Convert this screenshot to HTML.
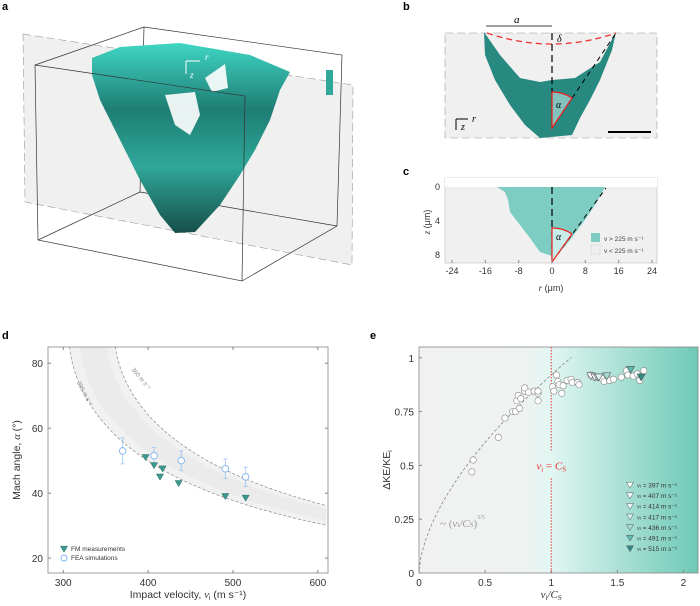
<!DOCTYPE html>
<html><head><meta charset="utf-8"><style>
body{margin:0;background:#fff;font-family:"Liberation Sans",sans-serif}
svg{display:block}
text{font-family:"Liberation Sans",sans-serif}
.it{font-family:"Liberation Serif",serif;font-style:italic}
</style></head><body>
<svg id="fig" width="700" height="606" viewBox="0 0 700 606">
<defs>
<linearGradient id="teal3d" x1="0" y1="0" x2="0" y2="1">
<stop offset="0" stop-color="#3fd6c4"/><stop offset="0.35" stop-color="#1f7d74"/><stop offset="0.65" stop-color="#2fa89a"/><stop offset="1" stop-color="#164f4a"/></linearGradient>
<linearGradient id="egrad" x1="0" x2="1" y1="0" y2="0">
<stop offset="0" stop-color="#f1f1f1"/><stop offset="0.38" stop-color="#eef2f1"/><stop offset="0.47" stop-color="#e2f6f2"/><stop offset="1" stop-color="#6fc9b6"/></linearGradient>
</defs>
<!-- panel a -->
<g>
<text x="2" y="10" font-size="11" font-weight="bold">a</text>
<polygon points="23,34 353,85 352,265 25,202" fill="#f0f0f0" stroke="#999" stroke-dasharray="8,4" stroke-width="0.6"/>
<polyline points="35,65 144,27 342,55 337,226 242,281" fill="none" stroke="#333" stroke-width="0.7"/>
<line x1="38" y1="240" x2="140" y2="192" stroke="#333" stroke-width="0.7"/>
<line x1="144" y1="27" x2="140" y2="192" stroke="#333" stroke-width="0.7"/>
<line x1="140" y1="192" x2="337" y2="226" stroke="#333" stroke-width="0.7"/>
<polygon points="92,58 120,47 180,43 250,55 290,72 280,90 270,120 255,150 240,175 220,205 195,232 175,233 160,215 140,180 120,140 100,100 92,75" fill="url(#teal3d)"/>
<polygon points="165,95 195,92 200,115 190,135 175,125" fill="#fff" opacity="0.9"/>
<polygon points="205,78 225,64 228,88 212,92" fill="#fff" opacity="0.9"/>
<rect x="326" y="70" width="7" height="25" fill="#2fa89a"/>
<polygon points="35,65 245,96 242,281 38,240" fill="none" stroke="#333" stroke-width="0.7"/>
<text x="205" y="60" font-size="9" fill="#fff" class="it">r</text>
<text x="190" y="78" font-size="9" fill="#fff" class="it">z</text>
<path d="M186,61 H200 M186,61 V74" stroke="#fff" stroke-width="1"/>
</g>
<!-- panel b -->
<g>
<text x="403" y="10" font-size="11" font-weight="bold">b</text>
<rect x="445" y="33" width="212" height="105" fill="#f0f0f0" stroke="#999" stroke-dasharray="8,4" stroke-width="0.6"/>
<polygon points="484,32 500,55 520,78 540,82 552,80 575,78 600,62 616,32 612,50 600,80 590,100 580,118 572,135 540,138 525,125 510,105 495,80 485,55" fill="#27897f"/>
<path d="M487,33 Q552,55 616,33" stroke="#e33" stroke-width="1.3" stroke-dasharray="6,4" fill="none"/>
<line x1="552" y1="33" x2="552" y2="128" stroke="#000" stroke-width="1.2" stroke-dasharray="7,4"/>
<line x1="552" y1="128" x2="616" y2="33" stroke="#000" stroke-width="1" stroke-dasharray="5,4"/>
<path d="M552,128 L552,92 A36,36 0 0 1 572,98 Z" fill="#bfe8e4" fill-opacity="0.6" stroke="#e22" stroke-width="1.2"/>
<text x="556" y="108" font-size="10" class="it">α</text>
<path d="M486,26 H552" stroke="#000" stroke-width="0.8"/>
<text x="514" y="23" font-size="11" class="it">a</text>
<text x="557" y="42" font-size="10" class="it">δ</text>
<line x1="608" y1="132" x2="651" y2="132" stroke="#000" stroke-width="2"/>
<path d="M456,119 H468 M456,119 V130" stroke="#000" stroke-width="1"/>
<text x="472" y="122" font-size="10" class="it">r</text><text x="461" y="130" font-size="10" class="it">z</text>
</g>
<!-- panel c -->
<g>
<text x="403" y="175" font-size="11" font-weight="bold">c</text>
<rect x="445" y="178" width="212" height="85" fill="#f0f0f0" stroke="#bbb" stroke-width="0.6"/>
<rect x="445" y="178" width="212" height="9" fill="#fff"/>
<path d="M497,187 L605,187 L595,205 L585,220 L570,240 L560,252 L552,256 L540,252 L530,238 L520,225 L510,212 L508,200 L505,192 Z" fill="#7dcdc3"/>
<line x1="552" y1="187" x2="552" y2="262" stroke="#000" stroke-width="1.2" stroke-dasharray="7,4"/>
<line x1="552" y1="262" x2="606" y2="188" stroke="#000" stroke-width="1" stroke-dasharray="5,4"/>
<path d="M552,262 L552,228 A34,34 0 0 1 572,234 Z" fill="#c8ecea" stroke="#e22" stroke-width="1.2"/>
<text x="556" y="240" font-size="10" class="it">α</text>
<rect x="591" y="233" width="9" height="9" fill="#7dcdc3"/><text x="604" y="241" font-size="6.5" fill="#444">v &gt; 225 m s⁻¹</text>
<rect x="591" y="245" width="9" height="9" fill="#f0f0f0" stroke="#ccc" stroke-width="0.5"/><text x="604" y="253" font-size="6.5" fill="#444">v &lt; 225 m s⁻¹</text>
<g id="caxis" font-size="9" fill="#333"></g>
<text x="551" y="291" font-size="9" text-anchor="middle" fill="#333"><tspan class="it">r</tspan> (μm)</text>
<text transform="translate(430,222) rotate(-90)" font-size="9" text-anchor="middle" fill="#333"><tspan class="it">z</tspan> (μm)</text>
</g>
<!-- panel d -->
<g id="pd">
<text x="2" y="339" font-size="11" font-weight="bold">d</text>
</g>
<!-- panel e -->
<g id="pe">
<text x="370" y="339" font-size="11" font-weight="bold">e</text>
</g>
</svg>
<script>
const NS="http://www.w3.org/2000/svg";
function mk(p,t,a){const e=document.createElementNS(NS,t);for(const k in a)e.setAttribute(k,a[k]);p.appendChild(e);return e;}
// ---- panel c axes ----
const cXTicks=[-24,-16,-8,0,8,16,24];
const cYTicks=[0,4,8];
(function(){const g=document.getElementById('caxis');
const cx=v=>552+v*(652-552)/24, cy=v=>187+v*(255-187)/8;
cXTicks.forEach(t=>{mk(g,'line',{x1:cx(t),x2:cx(t),y1:263,y2:260,stroke:'#888'});const tx=mk(g,'text',{x:cx(t),y:274,'text-anchor':'middle'});tx.textContent=t;

});
cYTicks.forEach(t=>{const tx=mk(g,'text',{x:440,y:cy(t)+3,'text-anchor':'end'});tx.textContent=t;

});})();

// ---- panel d data ----
const dXTicks=[300,400,500,600];
const dYTicks=[20,40,60,80];
const fmV=[397,407,414,417,436,491,515];
const fmA=[51,48.5,45,47.5,43,39,38.5];
const feaV=[370,407,439,491,515];
const feaA=[53,51.5,50,47.5,45];
const feaErr=[4,2.5,3,3,3];
const soundLow=306, soundHigh=360;
(function(){const g=document.getElementById('pd');
const L=48,R=328,T=347,B=573,x0=282,x1=612,y0=15.4,y1=85;
const X=v=>L+(v-x0)/(x1-x0)*(R-L), Y=a=>B-(a-y0)/(y1-y0)*(B-T);
mk(g,'rect',{x:L,y:T,width:R-L,height:B-T,fill:'#fff'});
const clip=mk(g,'clipPath',{id:'dclip'});mk(clip,'rect',{x:L,y:T,width:R-L,height:B-T});
const cg=mk(g,'g',{'clip-path':'url(#dclip)'});
const curve=c=>{const pts=[];for(let v=c*1.0005;v<=x1;v+=2){pts.push([X(v),Y(Math.asin(c/v)*180/Math.PI)]);}return pts;};
function band(c1,c2,fill){const a=curve(c1),b=curve(c2).reverse();const p=mk(cg,'path',{d:'M'+a.map(p=>p.join(',')).join('L')+'L'+b.map(p=>p.join(',')).join('L')+'Z',fill:fill});return p;}
const b1=band(soundLow,soundHigh,'#f1f1f1');
band(318,350,'#ebebeb');
[soundLow,soundHigh].forEach(c=>{const p=mk(cg,'path',{d:'M'+curve(c).map(p=>p.join(',')).join('L'),fill:'none',stroke:'#888','stroke-width':0.7,'stroke-dasharray':'3,2'});

});
const l1=mk(g,'text',{x:0,y:0,'font-size':6,fill:'#888',transform:`translate(${X(316)},${Y(74)}) rotate(62)`});l1.textContent='306 m s⁻¹';
const l2=mk(g,'text',{x:0,y:0,'font-size':6,fill:'#888',transform:`translate(${X(380)},${Y(78)}) rotate(50)`});l2.textContent='360 m s⁻¹';
mk(g,'rect',{x:L,y:T,width:R-L,height:B-T,fill:'none',stroke:'#888','stroke-width':0.8});
dXTicks.forEach(t=>{mk(g,'line',{x1:X(t),x2:X(t),y1:B,y2:B-3,stroke:'#888'});mk(g,'line',{x1:X(t),x2:X(t),y1:T,y2:T+3,stroke:'#888'});const tx=mk(g,'text',{x:X(t),y:B+13,'font-size':10,'text-anchor':'middle',fill:'#333'});tx.textContent=t;

});
dYTicks.forEach(t=>{mk(g,'line',{x1:L,x2:L+3,y1:Y(t),y2:Y(t),stroke:'#888'});mk(g,'line',{x1:R,x2:R-3,y1:Y(t),y2:Y(t),stroke:'#888'});const tx=mk(g,'text',{x:L-5,y:Y(t)+4,'font-size':10,'text-anchor':'end',fill:'#333'});tx.textContent=t;

});
feaV.forEach((v,i)=>{mk(g,'line',{x1:X(v),x2:X(v),y1:Y(feaA[i]-feaErr[i]),y2:Y(feaA[i]+feaErr[i]),stroke:'#9cc4f2','stroke-width':0.8});
mk(g,'line',{x1:X(v)-2,x2:X(v)+2,y1:Y(feaA[i]+feaErr[i]),y2:Y(feaA[i]+feaErr[i]),stroke:'#9cc4f2','stroke-width':0.8});
mk(g,'line',{x1:X(v)-2,x2:X(v)+2,y1:Y(feaA[i]-feaErr[i]),y2:Y(feaA[i]-feaErr[i]),stroke:'#9cc4f2','stroke-width':0.8});
const c=mk(g,'circle',{cx:X(v),cy:Y(feaA[i]),r:3.3,fill:'#fff',stroke:'#7fb2ee','stroke-width':0.9});

});
const tri=(x,y,s)=>`${x-s},${y-s*0.8} ${x+s},${y-s*0.8} ${x},${y+s*0.9}`;
fmV.forEach((v,i)=>{const p=mk(g,'polygon',{points:tri(X(v),Y(fmA[i]),3.6),fill:'#3a9a8f',stroke:'#2b6f67','stroke-width':0.5});

});
mk(g,'polygon',{points:tri(64,549,3.6),fill:'#3a9a8f',stroke:'#2b6f67','stroke-width':0.5});
const t1=mk(g,'text',{x:71,y:551,'font-size':6.5,fill:'#333'});t1.textContent='FM measurements';


mk(g,'circle',{cx:64,cy:558,r:3,fill:'#fff',stroke:'#7fb2ee','stroke-width':0.9});
const t2=mk(g,'text',{x:71,y:560,'font-size':6.5,fill:'#333'});t2.textContent='FEA simulations';


const xt=mk(g,'text',{x:188,y:598,'font-size':10.5,'text-anchor':'middle',fill:'#333'});xt.innerHTML='Impact velocity, <tspan class="it">v</tspan><tspan font-size="7" dy="2">i</tspan><tspan dy="-2"> (m s⁻¹)</tspan>';


const yt=mk(g,'text',{x:0,y:0,'font-size':10.5,'text-anchor':'middle',fill:'#333',transform:'translate(20,460) rotate(-90)'});yt.innerHTML='Mach angle, <tspan class="it">α</tspan> (°)';


})();

// ---- panel e data ----
const eXTicks=[0,0.5,1,1.5,2];
const eYTicks=[0,0.25,0.5,0.75,1];
const eXLabels=['0','0.5','1','1.5','2'];
const eYLabels=['0','0.25','0.5','0.75','1'];
const circX=[0.4,0.41,0.6,0.65,0.71,0.73,0.74,0.75,0.76,0.77,0.8,0.8,0.83,0.87,0.9,0.9,0.9,1.01,1.02,1.04,1.05,1.06,1.08,1.09,1.12,1.15,1.16,1.2,1.21,1.3,1.33,1.38,1.4,1.44,1.47,1.53,1.57,1.58,1.62,1.65,1.67,1.7];
const circY=[0.47,0.525,0.63,0.72,0.75,0.75,0.8,0.825,0.765,0.81,0.845,0.86,0.84,0.845,0.835,0.845,0.8,0.865,0.845,0.92,0.89,0.875,0.835,0.87,0.895,0.9,0.885,0.885,0.875,0.92,0.91,0.905,0.89,0.895,0.9,0.91,0.94,0.92,0.915,0.925,0.895,0.94];
const triVel=[397,407,414,417,436,491,515];
const triX=[1.30,1.33,1.35,1.36,1.42,1.6,1.68];
const triY=[0.915,0.91,0.91,0.91,0.915,0.945,0.91];
const triFill=['#ffffff','#f4fbfa','#e8f6f4','#dcf1ee','#a8ddd6','#5db8ad','#2e8b82'];
const fitCoef=0.92, fitExp=0.6;
(function(){const g=document.getElementById('pe');
const L=419,R=698,T=347,B=573,x0=0,x1=2.11,y0=0,y1=1.05;
const X=v=>L+(v-x0)/(x1-x0)*(R-L), Y=a=>B-(a-y0)/(y1-y0)*(B-T);
const bg=mk(g,'rect',{x:L,y:T,width:R-L,height:B-T,fill:'url(#egrad)',stroke:'#888','stroke-width':0.8});


eXTicks.forEach((t,i)=>{mk(g,'line',{x1:X(t),x2:X(t),y1:B,y2:B-3,stroke:'#888'});const tx=mk(g,'text',{x:X(t),y:B+13,'font-size':10,'text-anchor':'middle',fill:'#333'});tx.textContent=eXLabels[i];

});
eYTicks.forEach((t,i)=>{mk(g,'line',{x1:L,x2:L+3,y1:Y(t),y2:Y(t),stroke:'#888'});const tx=mk(g,'text',{x:L-5,y:Y(t)+4,'font-size':10,'text-anchor':'end',fill:'#333'});tx.textContent=eYLabels[i];

});
const pts=[];for(let v=0.001;v<=1.16;v+=0.01){pts.push(X(v)+','+Y(fitCoef*Math.pow(v,fitExp)));}
const fit=mk(g,'path',{d:'M'+pts.join('L'),fill:'none',stroke:'#888','stroke-width':0.8,'stroke-dasharray':'3,2'});


const vl=mk(g,'line',{x1:X(1),x2:X(1),y1:T,y2:Y(0.57),stroke:'#e33','stroke-width':1,'stroke-dasharray':'1.5,1.5'});


mk(g,'line',{x1:X(1),x2:X(1),y1:Y(0.44),y2:B,stroke:'#e33','stroke-width':1,'stroke-dasharray':'1.5,1.5'});
const vt=mk(g,'text',{x:X(1),y:Y(0.5)+4,'font-size':11,'text-anchor':'middle',fill:'#e33',class:'it'});vt.innerHTML='v<tspan font-size="7" dy="2" font-style="normal">i</tspan><tspan dy="-2" font-style="normal"> = </tspan>C<tspan font-size="7" dy="2" font-style="normal">S</tspan>';
const ft=mk(g,'text',{x:440,y:Y(0.25)+8,'font-size':11,fill:'#999',class:'it'});ft.innerHTML='<tspan font-style="normal">~ (</tspan>v<tspan font-style="normal" font-size="7">i</tspan>/C<tspan font-style="normal" font-size="7">S</tspan><tspan font-style="normal">)</tspan><tspan font-size="6" dy="-8" font-style="normal">3/5</tspan>';


circX.forEach((v,i)=>{const c=mk(g,'circle',{cx:X(v),cy:Y(circY[i]),r:3.2,fill:'#fff',stroke:'#888','stroke-width':0.6});

});
const tri=(x,y,s)=>`${x-s},${y-s*0.8} ${x+s},${y-s*0.8} ${x},${y+s*0.9}`;
triX.forEach((v,i)=>{const p=mk(g,'polygon',{points:tri(X(v),Y(triY[i]),4),fill:triFill[i],stroke:'#555','stroke-width':0.6});

});
triVel.forEach((v,i)=>{const y=485+i*10.6;mk(g,'polygon',{points:tri(630,y,3.5),fill:triFill[i],stroke:'#555','stroke-width':0.5});
const t=mk(g,'text',{x:637,y:y+2.5,'font-size':6.5,fill:'#333'});t.innerHTML='<tspan class="it">v</tspan><tspan font-size="4.5">i</tspan> = '+v+' m s⁻¹';

});
const xt=mk(g,'text',{x:X(1),y:598,'font-size':11,'text-anchor':'middle',fill:'#333',class:'it'});xt.innerHTML='v<tspan font-size="7" dy="2" font-style="normal">i</tspan><tspan dy="-2">/C</tspan><tspan font-size="7" dy="2" font-style="normal">S</tspan>';


const yt=mk(g,'text',{x:0,y:0,'font-size':10.5,'text-anchor':'middle',fill:'#333',transform:'translate(390,470) rotate(-90)'});yt.innerHTML='ΔKE/KE<tspan font-size="7" dy="2">i</tspan>';


})();
</script>
</body></html>
